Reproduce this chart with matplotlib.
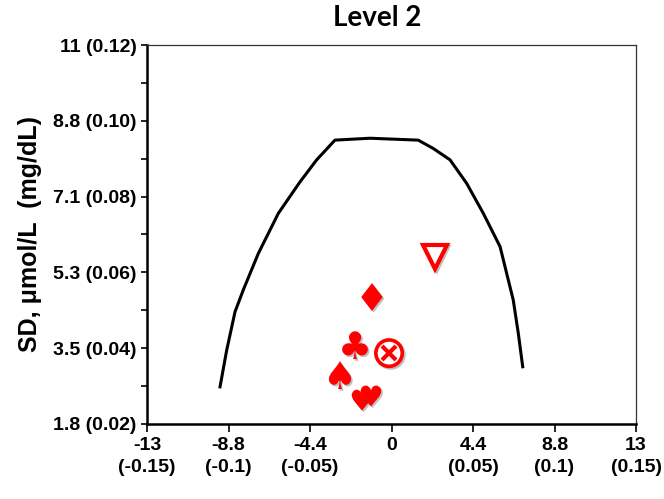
import matplotlib
matplotlib.use("Agg")
import matplotlib.pyplot as plt
import matplotlib.patheffects as pe
from matplotlib.ticker import FixedLocator

# ---- data (mg/dL units) ----
curve_x = [-0.1052, -0.1011, -0.0960, -0.0909, -0.0817, -0.0694, -0.0561, -0.0459,
           -0.0347, -0.0132, 0.0164, 0.0256, 0.0359, 0.0461, 0.0563, 0.0666,
           0.0747, 0.0778, 0.0805]
curve_y = [0.0298, 0.0395, 0.0496, 0.0554, 0.0650, 0.0756, 0.0839, 0.0897,
           0.0949, 0.0954, 0.0949, 0.0927, 0.0897, 0.0835, 0.0756, 0.0668,
           0.0527, 0.0439, 0.0351]

tri_x, tri_y = [0.0267], [0.0641]
diamond_x, diamond_y = [-0.0120], [0.0535]
club_x, club_y = [-0.0224], [0.0408]
otimes_x, otimes_y = [-0.0015], [0.0387]
spade_x, spade_y = [-0.0316], [0.0329]
heart_x, heart_y = [-0.0181, -0.0126], [0.0263, 0.0274]

x_ticks = [-0.15, -0.10, -0.05, 0.0, 0.05, 0.10, 0.15]
x_labels = ["-13\n(-0.15)", "-8.8\n(-0.1)", "-4.4\n(-0.05)", "0",
            "4.4\n(0.05)", "8.8\n(0.1)", "13\n(0.15)"]
y_ticks = [0.02, 0.04, 0.06, 0.08, 0.10, 0.12]
y_labels = ["1.8 (0.02)", "3.5 (0.04)", "5.3 (0.06)", "7.1 (0.08)",
            "8.8 (0.10)", "11 (0.12)"]
y_minor = [0.03, 0.05, 0.07, 0.09, 0.11]

title = "Level 2"
ylabel = "SD, \u03bcmol/L  (mg/dL)"

# ---- figure ----
fig = plt.figure(figsize=(6.64, 4.99), dpi=100)
ax = fig.add_axes([147/664, 1-424/499, (636-147)/664, (424-45)/499])
ax.set_xlim(-0.15, 0.15)
ax.set_ylim(0.02, 0.12)

ax.plot(curve_x, curve_y, color="black", lw=2.2, solid_joinstyle="round")

red = "#FF0000"
shadow_fill = [pe.SimplePatchShadow(offset=(1.2, -1.2), shadow_rgbFace="0.5", alpha=0.5), pe.Normal()]
shadow_line = [pe.SimpleLineShadow(offset=(1.2, -1.2), shadow_color="0.5", alpha=0.5), pe.Normal()]

ax.plot(tri_x, tri_y, ls="none", marker="v", ms=17, mfc="white", mec=red, mew=3,
        path_effects=shadow_line, zorder=5)
ax.plot(diamond_x, diamond_y, ls="none", marker="$\u2666$", ms=20, color=red, mew=0,
        path_effects=shadow_fill, zorder=5)
ax.plot(club_x, club_y, ls="none", marker="$\u2663$", ms=20, color=red, mew=0,
        path_effects=shadow_fill, zorder=5)
ax.plot(spade_x, spade_y, ls="none", marker="$\u2660$", ms=20, color=red, mew=0,
        path_effects=shadow_fill, zorder=5)
ax.plot(heart_x, heart_y, ls="none", marker="$\u2665$", ms=15, color=red, mew=0,
        path_effects=shadow_fill, zorder=5)
ax.plot(otimes_x, otimes_y, ls="none", marker="o", ms=19, mfc="white", mec=red, mew=2.6,
        path_effects=shadow_line, zorder=5)
ax.plot(otimes_x, otimes_y, ls="none", marker="x", ms=10, mec=red, mew=3, zorder=6)

# ---- axes styling ----
for s in ("left", "bottom"):
    ax.spines[s].set_linewidth(1.8)
    ax.spines[s].set_color("black")
for s in ("top", "right"):
    ax.spines[s].set_linewidth(0.9)
    ax.spines[s].set_color("#333333")

ax.set_xticks(x_ticks)
ax.set_xticklabels(x_labels)
ax.set_yticks(y_ticks)
ax.set_yticklabels(y_labels)
ax.yaxis.set_minor_locator(FixedLocator(y_minor))

tick_font = dict(family="Liberation Sans", weight="bold", size=14)
for lab in ax.get_xticklabels() + ax.get_yticklabels():
    lab.set_fontproperties(matplotlib.font_manager.FontProperties(**tick_font))
    lab.set_linespacing(1.45)

ax.tick_params(axis="x", which="major", direction="out", length=6, width=1.2, pad=3,
               top=False)
ax.tick_params(axis="y", which="both", direction="out", length=4.5, width=1.2, pad=3,
               right=False)

fig.text(377/664, 1-18/499, title, ha="center", va="center",
         family="Lato", weight="bold", size=20)
fig.text(30/664, 1-234/499, ylabel, ha="center", va="center", rotation=90,
         family="Liberation Sans", weight="bold", size=18)

fig.savefig("out.png", dpi=100)
